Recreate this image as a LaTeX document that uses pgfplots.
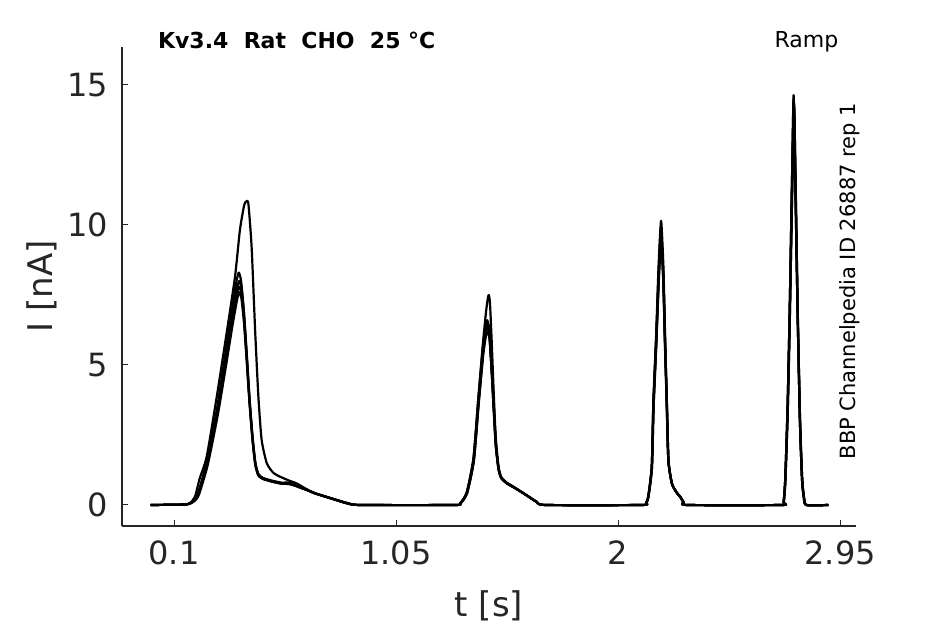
\documentclass[border=0pt]{standalone}
\usepackage{pgfplots}
\pgfplotsset{compat=1.18}
\usepackage{fontspec}
\setmainfont{DejaVu Sans}
\definecolor{axgray}{HTML}{262626}
\begin{document}
\begin{tikzpicture}
\begin{axis}[
  name=ax, at={(0,0)}, anchor=south west,
  scale only axis, width=367pt, height=239.5pt,
  xmin=-0.1225, xmax=3.018, ymin=-0.75, ymax=16.357,
  axis x line*=bottom, axis y line*=left,
  axis line style={-, axgray, line width=0.6pt},
  xtick={0.1,1.05,2,2.95}, xticklabels={0.1,1.05,2,2.95},
  ytick={0,5,10,15},
  tick align=inside, major tick length=3pt,
  tick style={axgray, line width=0.5pt},
  /pgf/number format/assume math mode=true,
  ticklabel style={font=\fontsize{16}{19}\selectfont, text=axgray},
  xticklabel style={yshift=-4pt},
  yticklabel style={xshift=-3.5pt},
  xlabel={t [s]}, ylabel={I [nA]},
  label style={font=\fontsize{17}{20}\selectfont, text=axgray},
  xlabel style={at={(axis description cs:0.5,-0.167)}, anchor=center},
  ylabel style={at={(axis description cs:-0.109,0.5)}, anchor=center, rotate=0},
  clip=false,
  cycle list={{black,mark=none}},
  every axis plot/.append style={line width=1.1pt, line join=round, smooth, tension=0.35},
]
% trace A (largest first peak)
\addplot coordinates {(0,0)(0.10,0.01)(0.15,0.02)(0.17,0.08)(0.19,0.3)(0.21,0.95)(0.24,1.73)(0.283,3.87)(0.325,6.13)(0.361,8.15)(0.382,9.82)(0.40,10.7)(0.408,10.83)(0.418,10.77)(0.432,9.23)(0.447,6.25)(0.461,3.87)(0.475,2.32)(0.497,1.49)(0.525,1.15)(0.554,1.01)(0.59,0.88)(0.625,0.77)(0.66,0.6)(0.7,0.43)(0.77,0.24)(0.84,0.06)(0.9,0)(1.3,0)(1.324,0.06)(1.352,0.42)(1.381,1.65)(1.402,3.8)(1.421,5.7)(1.435,6.9)(1.443,7.4)(1.447,7.5)(1.452,7.2)(1.459,5.9)(1.467,4.2)(1.476,2.5)(1.488,1.4)(1.5,1.0)(1.524,0.8)(1.559,0.62)(1.609,0.35)(1.652,0.11)(1.69,0)(2.10,0)(2.12,0.08)(2.129,0.3)(2.144,1.37)(2.151,3.75)(2.163,6.1)(2.173,8.5)(2.184,10.15)(2.194,8.5)(2.201,6.1)(2.208,3.75)(2.215,1.6)(2.23,0.77)(2.25,0.45)(2.265,0.3)(2.28,0.1)(2.295,0)(2.70,0)(2.708,0.1)(2.715,0.9)(2.725,3.5)(2.734,6.9)(2.744,11.6)(2.751,14.64)(2.758,11.6)(2.768,6.9)(2.778,3.0)(2.787,0.9)(2.795,0.25)(2.805,0)(2.90,0)};
% trace B
\addplot coordinates {(0,0)(0.10,0.01)(0.15,0.02)(0.168,0.06)(0.19,0.2)(0.204,0.45)(0.24,1.55)(0.283,3.4)(0.318,5.3)(0.347,6.9)(0.365,7.9)(0.377,8.3)(0.387,8.0)(0.398,7.0)(0.41,5.5)(0.422,3.9)(0.435,2.5)(0.447,1.55)(0.46,1.12)(0.48,0.97)(0.52,0.87)(0.56,0.8)(0.59,0.8)(0.62,0.7)(0.66,0.57)(0.7,0.42)(0.77,0.24)(0.84,0.06)(0.9,0)(1.3,0)(1.324,0.06)(1.352,0.45)(1.381,1.65)(1.402,3.8)(1.421,5.6)(1.432,6.35)(1.44,6.6)(1.448,6.3)(1.457,5.1)(1.466,3.7)(1.476,2.2)(1.488,1.3)(1.5,0.97)(1.524,0.78)(1.559,0.61)(1.609,0.34)(1.652,0.11)(1.69,0)(2.10,0)(2.12,0.08)(2.129,0.3)(2.144,1.37)(2.151,3.6)(2.163,5.95)(2.173,8.2)(2.183,9.9)(2.193,8.3)(2.2,6.0)(2.208,3.7)(2.215,1.6)(2.23,0.77)(2.25,0.45)(2.265,0.3)(2.28,0.1)(2.295,0)(2.70,0)(2.708,0.1)(2.715,0.9)(2.725,3.4)(2.734,6.8)(2.744,11.4)(2.752,14.4)(2.759,11.4)(2.768,6.9)(2.778,3.0)(2.787,0.9)(2.795,0.25)(2.805,0)(2.90,0)};
% trace C
\addplot coordinates {(0,0)(0.10,0.01)(0.15,0.02)(0.168,0.05)(0.19,0.18)(0.206,0.43)(0.242,1.5)(0.285,3.3)(0.32,5.15)(0.349,6.7)(0.367,7.65)(0.379,8.0)(0.389,7.75)(0.4,6.8)(0.412,5.3)(0.424,3.7)(0.437,2.35)(0.449,1.45)(0.462,1.08)(0.48,0.95)(0.52,0.84)(0.56,0.77)(0.60,0.76)(0.63,0.66)(0.67,0.53)(0.71,0.4)(0.78,0.22)(0.85,0.05)(0.9,0)(1.3,0)(1.326,0.06)(1.354,0.43)(1.383,1.6)(1.404,3.7)(1.423,5.5)(1.434,6.25)(1.442,6.5)(1.45,6.2)(1.459,5.0)(1.468,3.6)(1.478,2.1)(1.49,1.25)(1.502,0.95)(1.526,0.76)(1.561,0.6)(1.611,0.33)(1.654,0.1)(1.69,0)(2.10,0)(2.12,0.07)(2.13,0.3)(2.145,1.35)(2.152,3.55)(2.164,5.9)(2.174,8.1)(2.184,9.7)(2.194,8.1)(2.201,5.9)(2.209,3.6)(2.216,1.55)(2.231,0.75)(2.251,0.44)(2.266,0.29)(2.281,0.1)(2.296,0)(2.70,0)(2.709,0.1)(2.716,0.9)(2.726,3.4)(2.735,6.8)(2.745,11.3)(2.753,14.3)(2.76,11.3)(2.769,6.8)(2.779,2.9)(2.788,0.9)(2.796,0.24)(2.806,0)(2.90,0)};
% trace D
\addplot coordinates {(0,0)(0.10,0.01)(0.15,0.02)(0.17,0.06)(0.19,0.18)(0.206,0.42)(0.242,1.47)(0.285,3.25)(0.32,5.05)(0.349,6.55)(0.367,7.45)(0.378,7.8)(0.388,7.6)(0.399,6.7)(0.411,5.25)(0.423,3.7)(0.436,2.35)(0.448,1.45)(0.461,1.07)(0.48,0.94)(0.52,0.84)(0.56,0.77)(0.595,0.74)(0.625,0.67)(0.665,0.55)(0.705,0.41)(0.775,0.23)(0.845,0.05)(0.9,0)(1.3,0)(1.325,0.06)(1.353,0.42)(1.382,1.6)(1.403,3.7)(1.422,5.45)(1.433,6.15)(1.441,6.4)(1.449,6.1)(1.458,4.95)(1.467,3.55)(1.477,2.1)(1.489,1.25)(1.501,0.95)(1.525,0.77)(1.56,0.6)(1.61,0.34)(1.653,0.11)(1.69,0)(2.10,0)(2.12,0.08)(2.129,0.3)(2.144,1.35)(2.151,3.55)(2.163,5.85)(2.173,8.05)(2.183,9.6)(2.193,8.05)(2.2,5.85)(2.208,3.6)(2.215,1.6)(2.23,0.77)(2.25,0.45)(2.265,0.3)(2.28,0.1)(2.295,0)(2.70,0)(2.708,0.1)(2.715,0.9)(2.725,3.45)(2.734,6.85)(2.744,11.5)(2.751,14.5)(2.758,11.5)(2.768,6.9)(2.778,3.0)(2.787,0.9)(2.795,0.25)(2.805,0)(2.90,0)};
% trace E
\addplot coordinates {(0,0)(0.10,0.01)(0.15,0.02)(0.17,0.05)(0.192,0.17)(0.208,0.4)(0.244,1.42)(0.287,3.2)(0.322,4.95)(0.35,6.4)(0.368,7.25)(0.378,7.6)(0.388,7.4)(0.399,6.55)(0.411,5.15)(0.423,3.65)(0.436,2.3)(0.448,1.42)(0.461,1.05)(0.48,0.93)(0.52,0.83)(0.56,0.76)(0.6,0.75)(0.63,0.65)(0.67,0.53)(0.71,0.4)(0.78,0.22)(0.85,0.05)(0.9,0)(1.3,0)(1.326,0.06)(1.354,0.42)(1.383,1.58)(1.404,3.65)(1.423,5.35)(1.434,6.0)(1.442,6.2)(1.45,5.95)(1.459,4.85)(1.468,3.5)(1.478,2.05)(1.49,1.22)(1.502,0.94)(1.526,0.76)(1.561,0.59)(1.611,0.33)(1.654,0.1)(1.69,0)(2.10,0)(2.12,0.07)(2.13,0.3)(2.145,1.33)(2.152,3.5)(2.164,5.8)(2.174,7.95)(2.184,9.4)(2.194,7.95)(2.201,5.8)(2.209,3.55)(2.216,1.55)(2.231,0.76)(2.251,0.44)(2.266,0.29)(2.281,0.1)(2.296,0)(2.70,0)(2.709,0.1)(2.716,0.9)(2.726,3.35)(2.735,6.7)(2.745,11.2)(2.753,14.2)(2.76,11.2)(2.769,6.7)(2.779,2.9)(2.788,0.9)(2.796,0.24)(2.806,0)(2.90,0)};
\node[anchor=base west, font=\fontsize{11}{13}\selectfont\bfseries, text=black] at (axis description cs:0.0395,0.996) {Kv3.4\ \ Rat\ \ CHO\ \ 25 °C};
\node[anchor=base east, font=\fontsize{11}{13}\selectfont, text=black] at (axis description cs:0.9855,0.998) {Ramp};
\node[anchor=center, rotate=90, font=\fontsize{10.5}{12}\selectfont, text=black] at (axis description cs:0.992,0.511) {BBP Channelpedia ID 26887 rep 1};
\end{axis}
\pgfresetboundingbox
\path[use as bounding box] (-61pt,-49pt) rectangle (411.5pt,263pt);
\end{tikzpicture}
\end{document}
